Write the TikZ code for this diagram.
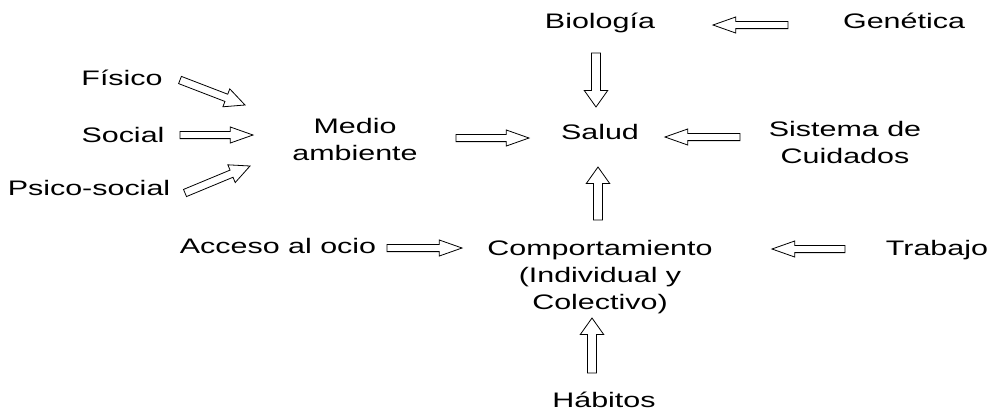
\documentclass[tikz,border=0pt]{standalone}
\usepackage{fontspec}
\setmainfont{Liberation Sans}[FakeStretch=1.45]
\usetikzlibrary{calc,positioning}

\tikzset{
	texto/.style={anchor=base,inner sep=0pt,align=center,font=\fontsize{15.75pt}{20.25pt}\selectfont},
	flecha/.style={draw=black,fill=white,line width=0.6pt,line join=miter},
	horiz/.code={\def\fshaft{2.7pt}\def\fhead{6pt}\def\flen{17pt}},
	vert/.code={\def\fshaft{3.4pt}\def\fhead{8.8pt}\def\flen{12.4pt}},
	diag/.code={\def\fshaft{2.9pt}\def\fhead{7.2pt}\def\flen{15pt}}
}
% hollow block arrow from #2 to #3
\newcommand{\flecha}[3][horiz]{%
	\begin{scope}[#1]
		\coordinate (fa) at (#2);
		\coordinate (fb) at (#3);
		\coordinate (fh) at ($(fb)!\flen!(fa)$);
		\draw[flecha] ($(fa)!\fshaft!90:(fb)$) -- ($(fh)!\fshaft!-90:(fa)$) -- ($(fh)!\fhead!-90:(fa)$) -- (fb)
		-- ($(fh)!\fhead!90:(fa)$) -- ($(fh)!\fshaft!90:(fa)$) -- ($(fa)!\fshaft!-90:(fb)$) -- cycle;
	\end{scope}}

\begin{document}
\begin{tikzpicture}[x=0.75pt,y=-0.75pt]
	\useasboundingbox (0,0) rectangle (997,412);
	\node[texto] (bio) at (600,28) {Biología};
	\node[texto] (gen) at (904,28) {Genética};
	\node[texto] (fis) at (122,85) {Físico};
	\node[texto] (soc) at (123,142) {Social};
	\node[texto] (psi) at (89,195) {Psico-social};
	\node[texto] (med) at (355,160) {Medio\\ambiente};
	\node[texto] (sal) at (600,139) {Salud};
	\node[texto] (sis) at (845,163) {Sistema de\\Cuidados};
	\node[texto] (acc) at (278,253) {Acceso al ocio};
	\node[texto] (com) at (600,309) {Comportamiento\\(Individual y\\Colectivo)};
	\node[texto] (tra) at (937,255) {Trabajo};
	\node[texto] (hab) at (604,407) {Hábitos};

	\flecha{$(gen.base)+(-116,-3)$}{$(bio.base)+(113,-3)$}
	\flecha[vert]{$(bio.base)+(-4,25)$}{$(sal.base)+(-4,-32)$}
	\flecha[diag]{$(fis.base)+(58,-5)$}{$(med.base)+(-110,-55)$}
	\flecha{$(soc.base)+(57,-7)$}{$(med.base)+(-102,-25)$}
	\flecha[diag]{$(psi.base)+(96,-2)$}{$(med.base)+(-105,6)$}
	\flecha{$(med.base)+(101,-22)$}{$(sal.base)+(-71,-1)$}
	\flecha{$(sis.base)+(-105,-26)$}{$(sal.base)+(65,-2)$}
	\flecha[vert]{$(com.base)+(-2,-89)$}{$(sal.base)+(-2,28)$}
	\flecha{$(acc.base)+(109,-5)$}{$(com.base)+(-138,-61)$}
	\flecha{$(tra.base)+(-92,-6)$}{$(com.base)+(172,-60)$}
	\flecha[vert]{$(hab.base)+(-12,-34)$}{$(com.base)+(-8,9)$}
\end{tikzpicture}
\end{document}
